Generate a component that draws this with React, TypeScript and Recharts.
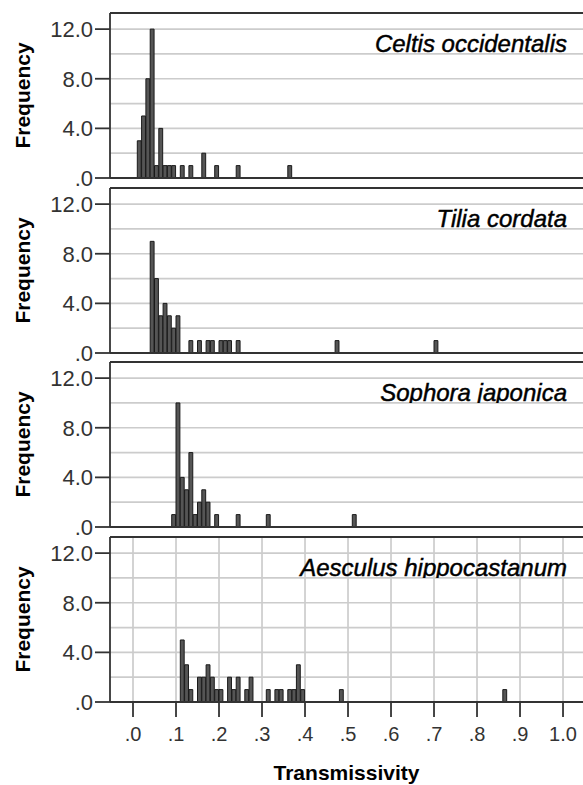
import React from 'react';
import { BarChart, Bar, XAxis, YAxis, CartesianGrid, ReferenceLine, Label } from 'recharts';

// bin starts (width .01) and frequencies
const celtisBins = [0.01, 0.02, 0.03, 0.04, 0.05, 0.06, 0.07, 0.08, 0.09, 0.11, 0.13, 0.16, 0.19, 0.24, 0.36];
const celtisCounts = [3, 5, 8, 12, 1, 4, 1, 1, 1, 1, 1, 2, 1, 1, 1];

const tiliaBins = [0.04, 0.05, 0.06, 0.07, 0.08, 0.09, 0.1, 0.13, 0.15, 0.17, 0.18, 0.2, 0.21, 0.22, 0.24, 0.47, 0.7];
const tiliaCounts = [9, 6, 3, 4, 3, 2, 3, 1, 1, 1, 1, 1, 1, 1, 1, 1, 1];

const sophoraBins = [0.09, 0.1, 0.11, 0.12, 0.13, 0.14, 0.15, 0.16, 0.17, 0.19, 0.24, 0.31, 0.51];
const sophoraCounts = [1, 10, 4, 3, 6, 1, 2, 3, 2, 1, 1, 1, 1];

const aesculusBins = [0.11, 0.12, 0.13, 0.15, 0.16, 0.17, 0.18, 0.19, 0.2, 0.22, 0.23, 0.24, 0.26, 0.27, 0.31, 0.33, 0.34, 0.36, 0.37, 0.38, 0.39, 0.48, 0.86];
const aesculusCounts = [5, 3, 1, 2, 2, 3, 2, 1, 1, 2, 1, 2, 1, 2, 1, 1, 1, 1, 1, 3, 1, 1, 1];

const speciesNames = ['Celtis occidentalis', 'Tilia cordata', 'Sophora japonica', 'Aesculus hippocastanum'];

const xTicks = [0, 0.1, 0.2, 0.3, 0.4, 0.5, 0.6, 0.7, 0.8, 0.9, 1.0];
const yTicks = [0, 4, 8, 12];
const yGrid = [2, 4, 6, 8, 10, 12];

const BIN = 0.01;
const XMIN = -0.0535;
const XMAX = 1.0488;
const YMAX = 13.3;

const FONT = '"Liberation Sans", Arial, Helvetica, sans-serif';
const FRAME = '#333333';

const CHART_W = 600;
const PLOT_LEFT = 110;
const PLOT_RIGHT = 584;
const PLOT_H = 165;
const PANEL_TOPS = [13, 188, 362, 537];
const BAR_PX = ((PLOT_RIGHT - PLOT_LEFT) / (XMAX - XMIN)) * BIN;

const panels = [
  { bins: celtisBins, counts: celtisCounts },
  { bins: tiliaBins, counts: tiliaCounts },
  { bins: sophoraBins, counts: sophoraCounts },
  { bins: aesculusBins, counts: aesculusCounts },
].map((p, i) => ({
  name: speciesNames[i],
  data: p.bins.map((b, j) => ({ x: b + BIN / 2, count: p.counts[j] })),
}));

const fmtY = (v: number) => (v === 0 ? '.0' : v.toFixed(1));
const fmtX = (v: number) => (v >= 1 ? '1.0' : '.' + Math.round(v * 10));

const speciesLabel = (name: string, id: string) => (props: any) => {
  const vb = props.viewBox;
  const baseline = vb.y + 39;
  return (
    <g>
      <defs>
        <clipPath id={id}>
          <rect x={vb.x} y={vb.y} width={vb.width} height={41} />
        </clipPath>
      </defs>
      <text
        x={vb.x + vb.width - 17}
        y={baseline}
        textAnchor="end"
        fontFamily={FONT}
        fontStyle="italic"
        fontSize={24}
        fill="#000"
        stroke="#000"
        strokeWidth={0.45}
        clipPath={`url(#${id})`}
      >
        {name}
      </text>
    </g>
  );
};

const freqLabel = (props: any) => {
  const vb = props.viewBox;
  const cy = vb.y + vb.height / 2;
  return (
    <text
      x={30}
      y={cy}
      transform={`rotate(-90, 30, ${cy})`}
      textAnchor="middle"
      fontFamily={FONT}
      fontWeight="bold"
      fontSize={21}
      fill="#000"
    >
      Frequency
    </text>
  );
};

const transLabel = (props: any) => {
  const vb = props.viewBox;
  return (
    <text
      x={vb.x + vb.width / 2 - 0.5}
      y={vb.y + 78}
      textAnchor="middle"
      fontFamily={FONT}
      fontWeight="bold"
      fontSize={21}
      fill="#000"
    >
      Transmissivity
    </text>
  );
};

function Panel({ index }: { index: number }) {
  const p = panels[index];
  const last = index === panels.length - 1;
  const xAxisH = last ? 82 : 12;
  const top = PANEL_TOPS[index] - 1;
  return (
    <div style={{ position: 'absolute', left: 0, top, background: '#fff' }}>
      <BarChart
        width={CHART_W}
        height={1 + PLOT_H + xAxisH}
        data={p.data}
        margin={{ top: 1, right: CHART_W - PLOT_RIGHT, bottom: 0, left: 0 }}
      >
        <CartesianGrid
          stroke="#cccccc"
          strokeWidth={1.7}
          horizontalValues={yGrid}
          verticalValues={xTicks}
        />
        <XAxis
          dataKey="x"
          type="number"
          domain={[XMIN, XMAX]}
          allowDataOverflow
          ticks={xTicks}
          interval={0}
          height={xAxisH}
          axisLine={{ stroke: FRAME, strokeWidth: 1.8 }}
          tick={last ? { fontSize: 20, fill: '#333', fontFamily: FONT } : false}
          tickLine={last ? { stroke: FRAME, strokeWidth: 1.8 } : false}
          tickSize={15}
          tickMargin={10}
          tickFormatter={fmtX}
        >
          {last && <Label content={transLabel} />}
        </XAxis>
        <YAxis
          type="number"
          domain={[0, YMAX]}
          allowDataOverflow
          ticks={yTicks}
          interval={0}
          width={PLOT_LEFT}
          axisLine={{ stroke: FRAME, strokeWidth: 1.8 }}
          tickLine={{ stroke: FRAME, strokeWidth: 1.8 }}
          tick={{ fontSize: 22, fill: '#333', fontFamily: FONT }}
          tickSize={15}
          tickMargin={2}
          tickFormatter={fmtY}
        >
          <Label content={freqLabel} />
        </YAxis>
        <Bar
          dataKey="count"
          fill="#555555"
          stroke="#1a1a1a"
          strokeWidth={1}
          barSize={BAR_PX}
          isAnimationActive={false}
        />
        <ReferenceLine
          y={YMAX}
          stroke={FRAME}
          strokeWidth={1.8}
          label={speciesLabel(p.name, `clip-species-${index}`)}
        />
      </BarChart>
    </div>
  );
}

export default function App() {
  return (
    <div
      style={{
        position: 'absolute',
        left: 0,
        top: 0,
        width: 583,
        height: 785,
        overflow: 'hidden',
        background: '#fff',
      }}
    >
      {panels.map((_, i) => (
        <Panel key={i} index={i} />
      ))}
    </div>
  );
}
